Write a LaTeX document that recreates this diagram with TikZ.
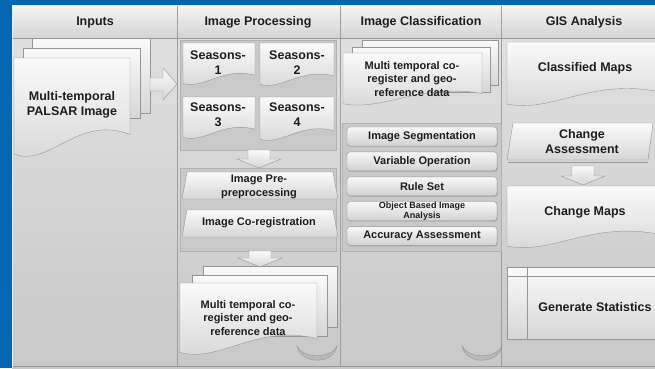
\documentclass[tikz,border=0pt]{standalone}
\usepackage{fontspec}
\setmainfont{Liberation Sans}
\usepackage{tikz}
\usetikzlibrary{positioning,shadows}

\definecolor{bgBlue}{RGB}{6,102,178}
\definecolor{lineGray}{RGB}{150,150,150}
\definecolor{panelTop}{RGB}{226,226,226}
\definecolor{panelBottom}{RGB}{200,200,200}
\definecolor{inkGray}{RGB}{30,30,30}

% page with wavy bottom edge: left x, top y, right x, bottom y
\newcommand{\docPage}[4]{
	\draw[page] (#1,#2) -- (#3,#2) -- ({#3},{#4-0.25*(#4-#2)})
	.. controls ({#3-0.45*(#3-#1)},{#4-0.45*(#4-#2)}) and ({#1+0.3*(#3-#1)},{#4+0.08*(#4-#2)}) .. ({#1},{#4-0.06*(#4-#2)}) -- cycle;
}
% hollow block arrow pointing down: centre x, top y, tip y
\newcommand{\downArrow}[3]{
	\draw[page] (#1-11,#2) -- (#1+11,#2) -- (#1+11,#3-9) -- (#1+22,#3-9) -- (#1,#3) -- (#1-22,#3-9) -- (#1-11,#3-9) -- cycle;
}
% curled page corner: left x, top y
\newcommand{\pageCurl}[2]{
	\draw[lineGray, fill=white!72!black] (#1,#2) .. controls (#1+4,#2+19) and (#1+36,#2+19) .. (#1+40,#2)
	.. controls (#1+34,#2+13) and (#1+6,#2+13) .. cycle;
}

\begin{document}
\begin{tikzpicture}[x=1pt,y=-1pt,
	every node/.style={font=\bfseries\fontsize{11}{13.5}\selectfont, text=inkGray, align=center},
	big/.style={font=\bfseries\fontsize{12.5}{15}\selectfont},
	page/.style={draw=lineGray, top color=white!98!black, bottom color=white!84!black},
	panel/.style={draw=white!70!black, fill=white!79!black},
	btn/.style={draw=lineGray, rounded corners=3pt, top color=white!97!black, bottom color=white!82!black,
		minimum width=150pt, minimum height=19pt, inner sep=0pt,
		drop shadow={shadow xshift=0.8pt, shadow yshift=-1pt, opacity=0.3}}]
\useasboundingbox (0,0) rectangle (655,368);

% background and header band
\fill[bgBlue] (0,0) rectangle (655,368);
\fill[top color=panelTop, bottom color=panelBottom] (12,5) rectangle (655,368);
\draw[white!92!black] (12,5) -- (12,368);
\draw[lineGray] (13,366) -- (655,366);
\fill[top color=white!96!black, bottom color=white!83!black] (13,6) rectangle (655,38);
\draw[lineGray] (13,38) -- (655,38);
\foreach \x in {177,340,501}
	\draw[white!62!black] (\x,6) -- (\x,366);

\node[big] (hInputs) at (95,22) {Inputs};
\node[big] (hProc) at (258,22) {Image Processing};
\node[big] (hClass) at (421,22) {Image Classification};
\node[big] (hGis) at (584,22) {GIS Analysis};

% inputs
\draw[page] (32,38) rectangle (150,113);
\draw[page] (23,48) rectangle (140,118);
\docPage{14}{58}{130}{160}
\node[big] (palsar) at (72,105) {Multi-temporal\\PALSAR Image};
\draw[page] (150,78) -- (163,78) -- (163,68) -- (177,84) -- (163,100) -- (163,91) -- (150,91) -- cycle;

% image processing
\draw[panel] (180,40) rectangle (336,150);
\docPage{183}{43}{255}{86}
\docPage{260}{43}{334}{87}
\docPage{183}{97}{255}{140}
\docPage{260}{97}{334}{142}
\node[big] (season1) at (218,63) {Seasons-\\1};
\node[big] (season2) at (297,63) {Seasons-\\2};
\node[big] (season3) at (218,115) {Seasons-\\3};
\node[big] (season4) at (297,115) {Seasons-\\4};
\downArrow{259}{150}{168}
\draw[panel] (180,168) rectangle (336,251);
\draw[page] (187,172) -- (333,172) -- (338,199) -- (182,199) -- cycle;
\node (prepro) at (259,187) {Image Pre-\\preprocessing};
\draw[page] (187,210) -- (333,210) -- (338,237) -- (182,237) -- cycle;
\node (coreg) at (259,223) {Image Co-registration};
\downArrow{260}{251}{267}
\draw[page] (203,266) rectangle (337,327);
\draw[page] (192,275) rectangle (327,336);
\docPage{180}{283}{317}{357}
\node (procData) at (248,318) {Multi temporal co-\\register and geo-\\reference data};
\pageCurl{297}{346}

% image classification
\draw[page] (362,40) rectangle (498,85);
\draw[page] (352,47) rectangle (490,92);
\docPage{343}{53}{482}{107}
\node (classData) at (412,79) {Multi temporal co-\\register and geo-\\reference data};
\draw[panel] (342,123) rectangle (501,251);
\node[btn] (seg) at (422,136.5) {Image Segmentation};
\node[btn, below=5.5pt of seg] (varop) {Variable Operation};
\node[btn, below=5.5pt of varop] (rules) {Rule Set};
\node[btn, below=5.5pt of rules, font=\bfseries\fontsize{9}{10}\selectfont] (obia) {Object Based Image\\Analysis};
\node[btn, below=5.5pt of obia] (accu) {Accuracy Assessment};
\pageCurl{462}{346}

% gis analysis
\docPage{507}{42}{658}{108}
\node[big] (classMaps) at (585,68) {Classified Maps};
\draw[page] (513,123) -- (653,123) -- (648,160) -- (507,160) -- cycle;
\draw[white!60!black] (508,162) -- (648,162);
\node[big] (changeAss) at (582,142) {Change\\Assessment};
\downArrow{583}{166}{185}
\docPage{507}{186}{658}{250}
\node[big] (changeMaps) at (585,212) {Change Maps};
\draw[page] (507,267) rectangle (658,339);
\draw[lineGray] (507,276) -- (658,276);
\draw[lineGray] (527,267) -- (527,339);
\node[big] (stats) at (595,307) {Generate Statistics};
\end{tikzpicture}
\end{document}
